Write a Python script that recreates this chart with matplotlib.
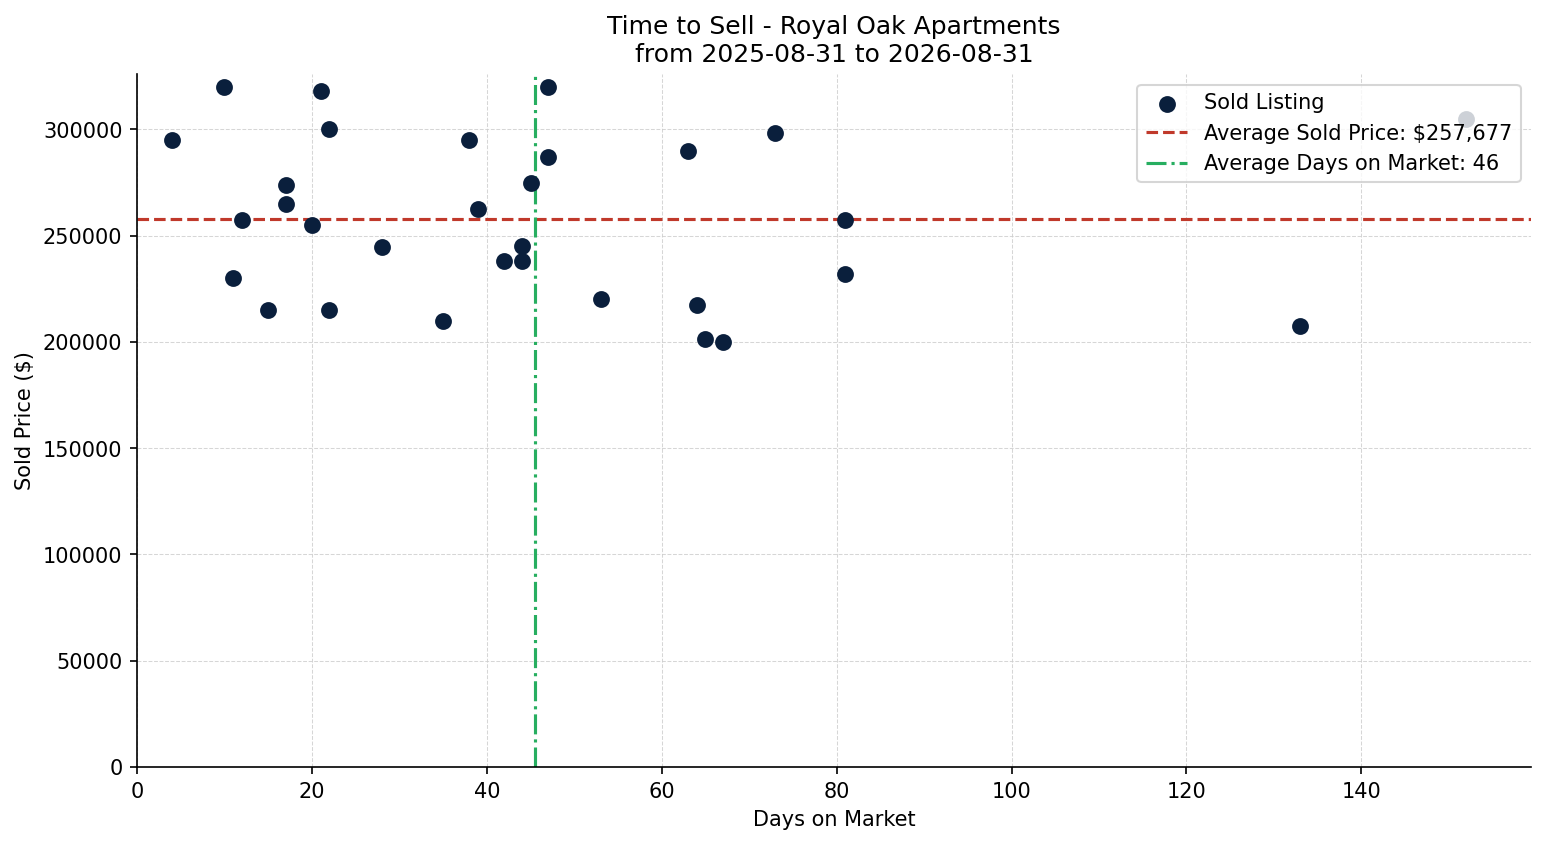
import numpy as np
import matplotlib.pyplot as plt

days_on_market = [4, 10, 11, 12, 15, 17, 17, 20, 21, 22, 22, 28, 35, 38, 39, 42,
                  44, 44, 45, 47, 47, 53, 63, 64, 65, 67, 73, 81, 81, 133, 152]
sold_price = [295000, 320000, 230000, 257500, 215000, 274000, 265000, 255000,
              318000, 300000, 215000, 244500, 210000, 295000, 262500, 238000,
              245000, 238000, 275000, 320000, 287000, 220000, 290000, 217500,
              201500, 200000, 298500, 257500, 232000, 207500, 305000]
avg_price = 257677
title = "Time to Sell - Royal Oak Apartments\nfrom 2025-08-31 to 2026-08-31"


def main():
    avg_days = np.mean(days_on_market)

    fig, ax = plt.subplots(figsize=(10.31, 5.63), dpi=150)
    fig.subplots_adjust(left=0.0886, right=0.990, top=0.9115, bottom=0.0915)

    ax.scatter(days_on_market, sold_price, s=50, color="#0a1f3c", label="Sold Listing", zorder=3)
    ax.axhline(avg_price, color="#c0392b", linestyle="--", linewidth=1.5,
               label=f"Average Sold Price: ${avg_price:,.0f}")
    ax.axvline(avg_days, color="#27ae60", linestyle="-.", linewidth=1.5,
               label=f"Average Days on Market: {avg_days:.0f}")

    ax.set_xlim(left=0)
    ax.set_ylim(bottom=0)
    ax.set_xlabel("Days on Market")
    ax.set_ylabel("Sold Price ($)")
    ax.set_title(title)
    ax.grid(True, linestyle="--", linewidth=0.5, color="#cccccc", alpha=0.8)
    ax.spines["top"].set_visible(False)
    ax.spines["right"].set_visible(False)
    ax.legend(loc="upper right")

    fig.savefig("out.png")
    plt.close(fig)


if __name__ == "__main__":
    main()
